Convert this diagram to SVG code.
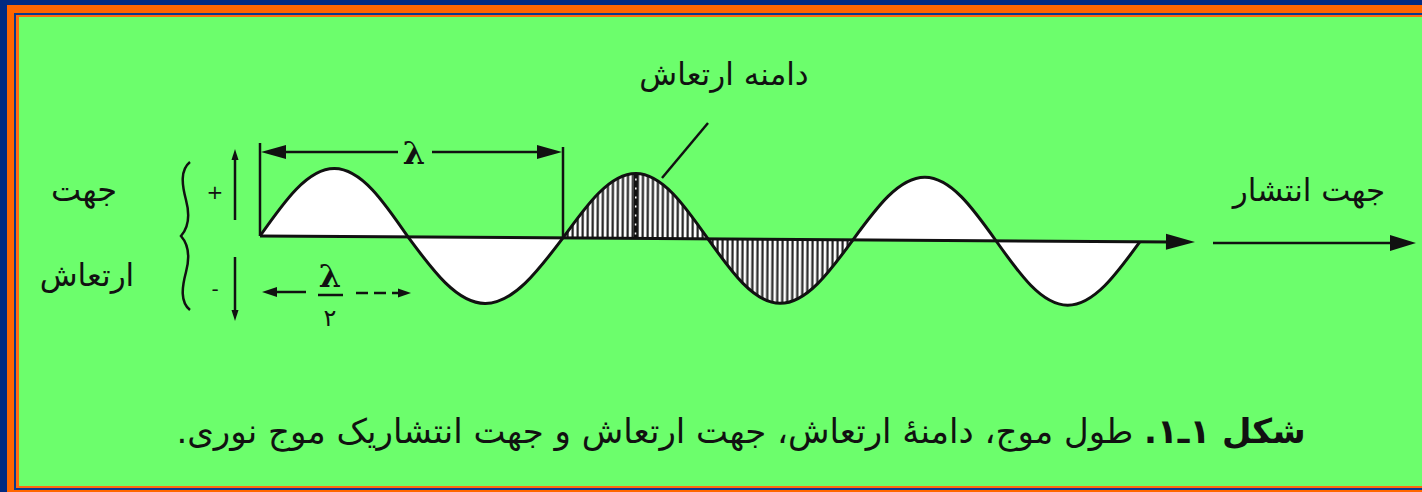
<svg xmlns="http://www.w3.org/2000/svg" width="1422" height="492" viewBox="0 0 1422 492">
<style>
.fa{font-family:"DejaVu Sans","Noto Sans",sans-serif;fill:#111;}
.ln{stroke:#111;stroke-width:2.5;fill:none;}
.wave{stroke:#111;stroke-width:3;fill:none;stroke-linejoin:round;}
.ah{fill:#111;}
.sym{font-family:"DejaVu Serif","Liberation Serif",serif;font-weight:bold;fill:#111;}
</style>
<defs>
<pattern id="hatch" patternUnits="userSpaceOnUse" width="5" height="10">
<rect width="5" height="10" fill="#fff"/>
<rect x="1.5" width="2.2" height="10" fill="#222"/>
</pattern>
</defs>
<!-- frame -->
<rect width="1422" height="492" fill="#022a82"/>
<rect x="7" y="5" width="1415" height="487" fill="#ff6600"/>
<rect x="14" y="13" width="1408" height="477" fill="#0a3a8c"/>
<rect x="16" y="15" width="1406" height="473" fill="#ff6a10"/>
<rect x="19" y="17" width="1403" height="469" fill="#6cfe6c"/>

<g id="wave" transform="rotate(0.37 260 236)">
<path d="M260,236 C284.1,201.2 307.2,168 334,168 C360.8,168 383.9,201.2 408,236 Z" fill="#fff"/>
<path d="M408,236 C433.3,269.8 457.5,302 485.5,302 C513.5,302 537.7,269.8 563,236 Z" fill="#fff"/>
<path d="M563,236 C586.6,202.7 609.3,171 635.5,171 C661.7,171 684.4,202.7 708,236 Z" fill="url(#hatch)"/>
<path d="M708,236 C731.6,268.8 754.3,300 780.5,300 C806.7,300 829.4,268.8 853,236 Z" fill="url(#hatch)"/>
<path d="M853,236 C876.3,203.7 898.6,173 924.5,173 C950.4,173 972.7,203.7 996,236 Z" fill="#fff"/>
<path d="M996,236 C1019.5,268.8 1041.9,300 1068,300 C1094.1,300 1116.5,268.8 1140,236 Z" fill="#fff"/>
<line x1="635.5" y1="172" x2="635.5" y2="236" stroke="#111" stroke-width="4"/>
<line x1="635.5" y1="176" x2="635.5" y2="234" stroke="#fff" stroke-width="1.5" stroke-dasharray="2 7"/>
<line x1="260" y1="236" x2="1172" y2="236" stroke="#111" stroke-width="3"/>
<polygon class="ah" points="1166,228 1195,236 1166,244"/>
<path class="wave" d="M260,236 C284.1,201.2 307.2,168 334,168 C360.8,168 383.9,201.2 408,236 C433.3,269.8 457.5,302 485.5,302 C513.5,302 537.7,269.8 563,236 C586.6,202.7 609.3,171 635.5,171 C661.7,171 684.4,202.7 708,236 C731.6,268.8 754.3,300 780.5,300 C806.7,300 829.4,268.8 853,236 C876.3,203.7 898.6,173 924.5,173 C950.4,173 972.7,203.7 996,236 C1019.5,268.8 1041.9,300 1068,300 C1094.1,300 1116.5,268.8 1140,236"/>
</g>

<g id="connectors">
<!-- lambda dimension -->
<line class="ln" x1="260" y1="143" x2="260" y2="236"/>
<line class="ln" x1="563" y1="147" x2="563" y2="238"/>
<line class="ln" x1="280" y1="152" x2="398" y2="152" stroke-width="2"/>
<line class="ln" x1="432" y1="152" x2="544" y2="152" stroke-width="2"/>
<polygon class="ah" points="261,152 286,145 286,159"/>
<polygon class="ah" points="562,152 537,145 537,159"/>
<!-- lambda/2 dimension -->
<polygon class="ah" points="262,292 277,287 277,297"/>
<line class="ln" x1="276" y1="292" x2="306" y2="292" stroke-width="2"/>
<line class="ln" x1="356" y1="293" x2="402" y2="293" stroke-width="2" stroke-dasharray="12 6"/>
<polygon class="ah" points="411,293 398,288.5 398,297.5"/>
<line class="ln" x1="318" y1="295" x2="343" y2="295" stroke-width="2.5"/>
<!-- vibration direction arrow -->
<line class="ln" x1="235" y1="156" x2="235" y2="220" stroke-width="2"/>
<polygon class="ah" points="235,149 231.5,160 238.5,160"/>
<line class="ln" x1="235" y1="257" x2="235" y2="314" stroke-width="2"/>
<polygon class="ah" points="235,321 231.5,310 238.5,310"/>
<!-- brace -->
<path class="ln" d="M190,162 C180,170 182,185 186,200 C190,215 188,228 181,236 C188,244 190,257 186,272 C182,287 180,302 190,310" stroke-width="2.5"/>
<!-- leader -->
<line class="ln" x1="708" y1="123" x2="662" y2="178" stroke-width="1.8"/>
<!-- propagation arrow -->
<line class="ln" x1="1213" y1="243" x2="1395" y2="243" stroke-width="2.5"/>
<polygon class="ah" points="1390,235 1416,243 1390,251"/>
</g>

<g id="labels">
<text class="sym" x="414" y="164" font-size="32" text-anchor="middle">λ</text>
<text class="sym" x="330" y="287" font-size="32" text-anchor="middle">λ</text>
<text class="fa" x="330" y="326" font-size="24" text-anchor="middle">۲</text>
<text class="fa" x="215" y="199" font-size="20" text-anchor="middle">+</text>
<text class="fa" x="215" y="296" font-size="20" text-anchor="middle">-</text>
<text class="fa" x="84" y="201" font-size="32" text-anchor="middle" direction="rtl">جهت</text>
<text class="fa" x="87" y="286" font-size="31" text-anchor="middle" direction="rtl">ارتعاش</text>
<text class="fa" x="724" y="85" font-size="31" text-anchor="middle" direction="rtl">دامنه ارتعاش</text>
<text class="fa" x="1309" y="201" font-size="31" text-anchor="middle" direction="rtl">جهت انتشار</text>
<text class="fa" x="741" y="443" font-size="34" text-anchor="middle" direction="rtl"><tspan font-weight="bold">شکل ۱ـ۱.</tspan> طول موج، دامنهٔ ارتعاش، جهت ارتعاش و جهت انتشاریک موج نوری.</text>
</g>
</svg>
